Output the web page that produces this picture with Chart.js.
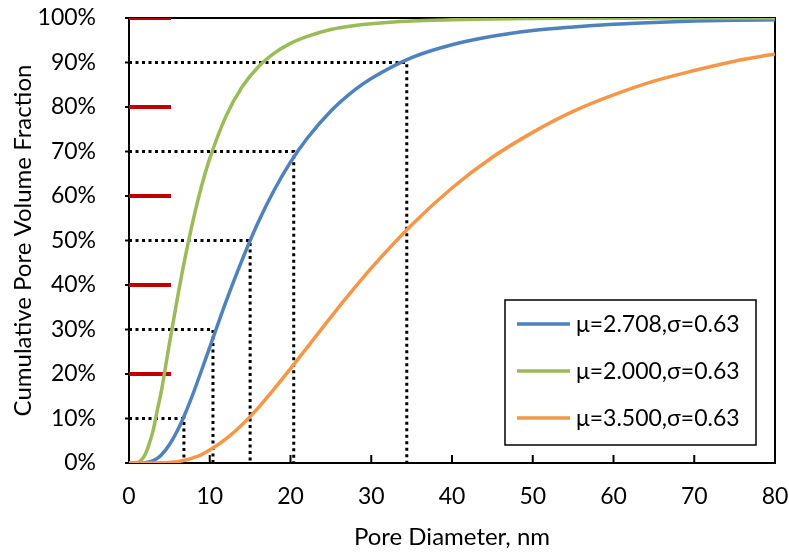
<!doctype html>
<html>
  <head>
    <meta charset="utf-8" />
    <title>Cumulative Pore Volume Fraction</title>
    <script src="https://cdn.jsdelivr.net/npm/chart.js"></script>
    <style>
      html, body { margin: 0; padding: 0; background: #fff; }
      #wrap { width: 789px; height: 552px; }
    </style>
  </head>
  <body>
    <div id="wrap"><canvas id="chart" width="789" height="552"></canvas></div>
    <script type="text/javascript">
      // pore diameters (nm) the curves are sampled at
      const diameters = [0, 1, 1.5, 2, 2.5, 3, 3.5, 4, 5, 6, 7, 8, 9, 10, 12, 14, 16, 18, 20, 22, 25, 28, 30, 35, 40, 45, 50, 55, 60, 65, 70, 75, 80];

      // cumulative fractions for each curve
      const blueFraction = [0, 0, 0.0001, 0.0007, 0.0022, 0.0053, 0.0104, 0.018, 0.041, 0.073, 0.113, 0.159, 0.209, 0.26, 0.362, 0.456, 0.541, 0.614, 0.676, 0.728, 0.791, 0.839, 0.864, 0.911, 0.94, 0.959, 0.972, 0.98, 0.986, 0.99, 0.993, 0.995, 0.996];
      const greenFraction = [0, 0.001, 0.006, 0.019, 0.043, 0.074, 0.118, 0.161, 0.268, 0.371, 0.466, 0.55, 0.623, 0.684, 0.779, 0.845, 0.89, 0.921, 0.943, 0.958, 0.974, 0.983, 0.987, 0.993, 0.996, 0.998, 0.999, 0.9995, 0.9996, 0.9998, 0.9998, 0.9999, 0.9999];
      const orangeFraction = [0, 0, 0, 0, 0, 0, 0.0001, 0.0004, 0.0013, 0.003, 0.0068, 0.012, 0.019, 0.029, 0.054, 0.086, 0.124, 0.167, 0.212, 0.258, 0.328, 0.395, 0.438, 0.535, 0.618, 0.687, 0.743, 0.79, 0.827, 0.858, 0.882, 0.903, 0.919];

      const seriesLabels = ["μ=2.708,σ=0.63", "μ=2.000,σ=0.63", "μ=3.500,σ=0.63"];
      const seriesColors = ["#4F81BD", "#9BBB59", "#F79646"];

      // dotted read-off lines on the blue curve
      const guideLevels = [0.1, 0.3, 0.5, 0.7, 0.9];
      const guideDiameters = [6.8, 10.4, 15.0, 20.4, 34.4];

      // short red marks along the y axis
      const markLevels = [0.2, 0.4, 0.6, 0.8, 1.0];
      const markEnd = 5.2;

      const xTicks = [0, 10, 20, 30, 40, 50, 60, 70, 80];

      function curve(values) {
        return diameters.map((d, i) => ({ x: d, y: values[i] }));
      }

      function guidePoints() {
        const pts = [];
        guideLevels.forEach((lvl, i) => {
          const d = guideDiameters[i];
          pts.push({ x: 0, y: lvl }, { x: d, y: lvl }, { x: d, y: 0 }, { x: d, y: null });
        });
        return pts;
      }

      function markPoints() {
        const pts = [];
        markLevels.forEach((lvl) => {
          pts.push({ x: 0, y: lvl }, { x: markEnd, y: lvl }, { x: markEnd, y: null });
        });
        return pts;
      }

      // frame, inner x ticks, outer y ticks and the boxed legend
      const decorations = {
        id: "decorations",
        beforeDatasetsDraw(chart) {
          const { ctx, chartArea: a, scales } = chart;
          ctx.save();
          ctx.strokeStyle = "#000";
          ctx.lineWidth = 2;
          ctx.strokeRect(a.left, a.top, a.right - a.left, a.bottom - a.top);
          ctx.beginPath();
          xTicks.forEach((t) => {
            const px = scales.x.getPixelForValue(t);
            ctx.moveTo(px, a.bottom);
            ctx.lineTo(px, a.bottom - 8);
          });
          for (let v = 0; v <= 1.0001; v += 0.1) {
            const py = scales.y.getPixelForValue(v);
            ctx.moveTo(a.left - 4, py);
            ctx.lineTo(a.left, py);
          }
          ctx.stroke();
          ctx.restore();
        },
        afterDraw(chart) {
          const { ctx, chartArea: a } = chart;
          const w = 251, h = 145;
          const left = a.right - 19 - w;
          const top = a.bottom - 18 - h;
          ctx.save();
          ctx.fillStyle = "#fff";
          ctx.fillRect(left, top, w, h);
          ctx.strokeStyle = "#000";
          ctx.lineWidth = 1.5;
          ctx.strokeRect(left, top, w, h);
          ctx.font = "23px Lato";
          ctx.textBaseline = "middle";
          ctx.fillStyle = "#000";
          seriesLabels.forEach((label, i) => {
            const y = top + 24 + i * 47;
            ctx.strokeStyle = seriesColors[i];
            ctx.lineWidth = 3.5;
            ctx.beginPath();
            ctx.moveTo(left + 12, y);
            ctx.lineTo(left + 65, y);
            ctx.stroke();
            ctx.fillText(label, left + 71, y + 1);
          });
          ctx.restore();
        },
      };

      Chart.defaults.font.family = "Lato";
      Chart.defaults.font.size = 23;
      Chart.defaults.color = "#000";

      const ctx = document.getElementById("chart");
      new Chart(ctx, {
        type: "line",
        data: {
          datasets: [
            {
              label: "marks",
              data: markPoints(),
              borderColor: "#C00000",
              borderWidth: 4,
              pointRadius: 0,
              spanGaps: false,
              order: 4,
            },
            {
              label: "guides",
              data: guidePoints(),
              borderColor: "#000",
              borderWidth: 3,
              borderDash: [3, 3.5],
              borderCapStyle: "butt",
              pointRadius: 0,
              spanGaps: false,
              order: 3,
            },
            {
              label: seriesLabels[0],
              data: curve(blueFraction),
              borderColor: seriesColors[0],
              borderWidth: 3.5,
              pointRadius: 0,
              cubicInterpolationMode: "monotone",
              order: 2,
            },
            {
              label: seriesLabels[1],
              data: curve(greenFraction),
              borderColor: seriesColors[1],
              borderWidth: 3.5,
              pointRadius: 0,
              cubicInterpolationMode: "monotone",
              order: 1,
            },
            {
              label: seriesLabels[2],
              data: curve(orangeFraction),
              borderColor: seriesColors[2],
              borderWidth: 3.5,
              pointRadius: 0,
              cubicInterpolationMode: "monotone",
              order: 0,
            },
          ],
        },
        options: {
          responsive: false,
          animation: false,
          layout: { padding: { left: 0, right: 14, top: 18, bottom: 0 } },
          plugins: {
            legend: { display: false },
            tooltip: { enabled: false },
          },
          scales: {
            x: {
              type: "linear",
              min: 0,
              max: 80,
              grid: { display: false },
              border: { display: false },
              ticks: { stepSize: 10, padding: 12, maxRotation: 0 },
              title: { display: true, text: "Pore Diameter, nm", font: { size: 24 }, padding: { top: 0, bottom: 0 } },
              afterFit(scale) {
                scale.height = 89;
                scale.paddingLeft = 0;
                scale.paddingRight = 0;
              },
            },
            y: {
              min: 0,
              max: 1,
              grid: { display: false },
              border: { display: false },
              ticks: {
                stepSize: 0.1,
                padding: 25,
                callback: (v) => Math.round(v * 100) + "%",
              },
              title: { display: true, text: "Cumulative Pore Volume Fraction", font: { size: 24 }, padding: { top: 9, bottom: 0 } },
              afterFit(scale) {
                scale.width = 129;
                scale.paddingTop = 0;
                scale.paddingBottom = 0;
              },
            },
          },
        },
        plugins: [decorations],
      });
    </script>
  </body>
</html>
